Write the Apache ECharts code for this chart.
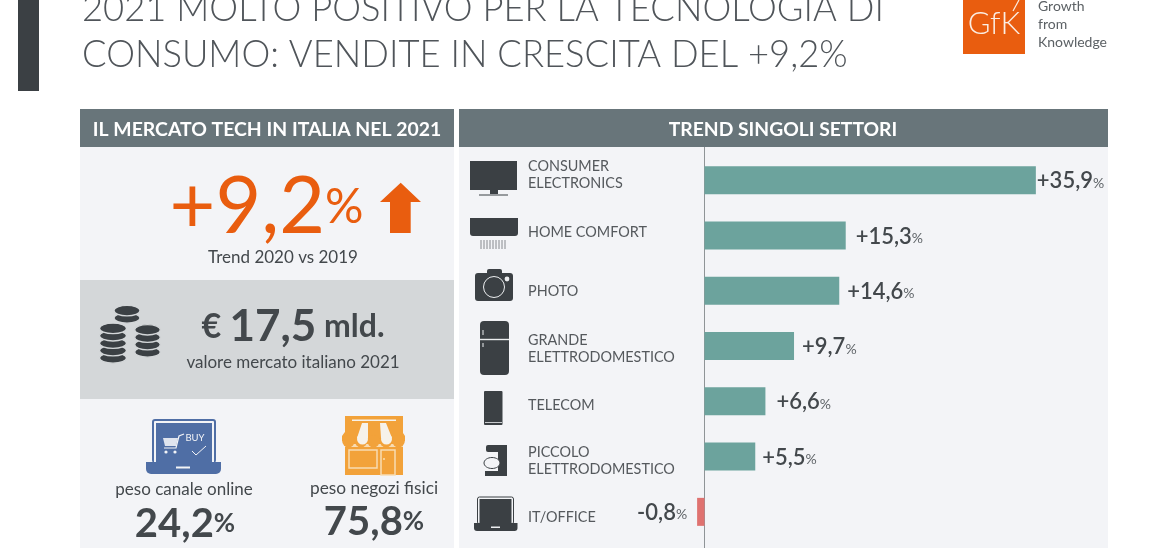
<!DOCTYPE html>
<html>
<head>
    <meta charset="utf-8">
    <title>Mercato tech Italia 2021</title>
    <script src="https://cdn.jsdelivr.net/npm/echarts@6/dist/echarts.min.js"></script>
    <style>
        html, body { margin: 0; padding: 0; background: #fff; }
        #chart { width: 1160px; height: 560px; }
    </style>
</head>
<body>
    <div id="chart"></div>
    <script>
        // data
        const titleLines = ['2021 MOLTO POSITIVO PER LA TECNOLOGIA DI', 'CONSUMO: VENDITE IN CRESCITA DEL +9,2%'];
        const categories = ['CONSUMER\nELECTRONICS', 'HOME COMFORT', 'PHOTO', 'GRANDE\nELETTRODOMESTICO', 'TELECOM', 'PICCOLO\nELETTRODOMESTICO', 'IT/OFFICE'];
        const trendValues = [35.9, 15.3, 14.6, 9.7, 6.6, 5.5, -0.8];
        const logoLines = ['Growth', 'from', 'Knowledge'];

        // layout tweaks, the original labels are not all on the bar centre
        const labelShift = [-5, -3, 1, 3, 4, 4, 6];
        const valueGap = [1, 10, 8, 8, 11, 7, 10];

        const DARK = '#3b4044';
        const TEXT = '#43484c';
        const PANEL = '#f3f4f7';
        const HEADER = '#68757a';
        const ORANGE = '#e95d0f';
        const FONT = 'Lato, "Open Sans", sans-serif';

        const formatValue = v => (v > 0 ? '+' : '') + String(v).replace('.', ',');

        function rect(x, y, w, h, fill, r, z) {
            return { type: 'rect', z: z === undefined ? 5 : z, silent: true, shape: { x, y, width: w, height: h, r: r || 0 }, style: { fill } };
        }
        function line(x1, y1, x2, y2, stroke, lineWidth, z) {
            return { type: 'line', z: z === undefined ? 6 : z, silent: true, shape: { x1, y1, x2, y2 }, style: { stroke, lineWidth: lineWidth || 1 } };
        }
        function circle(cx, cy, r, style) {
            return { type: 'circle', z: 6, silent: true, shape: { cx, cy, r }, style };
        }
        function poly(points, fill, z) {
            return { type: 'polygon', z: z === undefined ? 6 : z, silent: true, shape: { points }, style: { fill } };
        }
        function stroke(points, color, lineWidth) {
            return { type: 'polyline', z: 7, silent: true, shape: { points }, style: { stroke: color, lineWidth: lineWidth || 1, fill: null } };
        }
        function text(x, y, str, size, opts) {
            opts = opts || {};
            return {
                type: 'text', z: 8, silent: true,
                style: {
                    x, y, text: str,
                    fill: opts.fill || TEXT,
                    font: `${opts.weight || 400} ${size}px ${FONT}`,
                    textAlign: opts.align || 'center',
                    textVerticalAlign: 'middle',
                    rich: opts.rich
                }
            };
        }
        function coinStack(cx, bottom, n, rx, ry) {
            const out = [];
            for (let i = 0; i < n; i++) {
                const cy = bottom - i * 7.4;
                out.push({ type: 'ellipse', z: 6, silent: true, shape: { cx, cy, rx, ry }, style: { fill: DARK, stroke: '#d4d7d9', lineWidth: 1.3 } });
            }
            return out;
        }

        const panels = [
            rect(18, 0, 21, 91, DARK, 0, 1),
            rect(80, 147, 374, 401, PANEL, 0, -10),
            rect(459, 147, 649, 401, PANEL, 0, -10),
            rect(80, 109, 374, 38, HEADER, 0, 1),
            rect(459, 109, 649, 38, HEADER, 0, 1),
            rect(80, 280, 374, 119, '#d4d7d9', 0, 1),
            line(704.5, 147, 704.5, 548, '#8f9497', 1, -5)
        ];

        const logo = [
            rect(963, 0, 62, 54, ORANGE, 0, 2),
            text(994, 24, 'GfK', 31, { fill: '#fbeee4', weight: 300 }),
            line(1013, 11, 1019, 0, '#fbeee4', 1.2),
            text(1038, 6, logoLines[0], 14, { align: 'left', fill: '#5c6165' }),
            text(1038, 24, logoLines[1], 14, { align: 'left', fill: '#5c6165' }),
            text(1038, 42, logoLines[2], 14, { align: 'left', fill: '#5c6165' })
        ];

        const pct = (size, color, weight) => ({ fontFamily: 'Lato', fontSize: size, fontWeight: weight || 400, fill: color, color });
        const texts = [
            text(82, 9, titleLines[0], 36.4, { align: 'left', weight: 300, fill: '#50555a' }),
            text(82, 55, titleLines[1], 36.4, { align: 'left', weight: 300, fill: '#50555a' }),
            text(267, 130, 'IL MERCATO TECH IN ITALIA NEL 2021', 19.4, { fill: '#fff', weight: 700 }),
            text(783, 130, 'TREND SINGOLI SETTORI', 19.3, { fill: '#fff', weight: 700 }),
            text(266.5, 208, '{a|+9,2}{b|%}', 79, { fill: ORANGE, rich: { a: pct(79, ORANGE), b: pct(48, ORANGE) } }),
            text(283, 258, 'Trend 2020 vs 2019', 17),
            text(293, 327, '{a|€ }{b|17,5}{c| mld.}', 30, { rich: { a: pct(34, TEXT, 700), b: pct(44, TEXT, 700), c: pct(32, TEXT, 700) } }),
            text(293, 363, 'valore mercato italiano 2021', 17),
            text(184, 490, 'peso canale online', 17),
            text(374, 488, 'peso negozi fisici', 17.3),
            text(185, 524, '{a|24,2}{b|%}', 40, { rich: { a: pct(40, TEXT, 700), b: pct(26, TEXT, 700) } }),
            text(374, 522, '{a|75,8}{b|%}', 40, { rich: { a: pct(40, TEXT, 700), b: pct(26, TEXT, 700) } })
        ];

        const arrow = [poly([[400.7, 182.7], [421, 202], [410.7, 202], [410.7, 233], [390, 233], [390, 202], [380, 202]], ORANGE)];

        const coins = [
            ...coinStack(127, 318, 2, 13, 5.2),
            ...coinStack(147.5, 352, 4, 12.8, 5.2),
            ...coinStack(113, 358, 5, 13.5, 5.2)
        ];

        const BLUE = '#4f6ea5';
        const onlineIcon = [
            rect(152, 419, 64, 44, BLUE, 3),
            rect(154, 421, 60, 42, '#f3f4f7', 1),
            rect(156, 423, 56, 40, BLUE),
            rect(146, 462, 75, 12, BLUE, [0, 0, 5, 5]),
            rect(176, 466.5, 14, 2, '#f3f4f7'),
            text(195, 438, 'BUY', 9.5, { fill: '#f3f4f7' }),
            stroke([[184, 434], [179, 436], [176, 448], [164, 448]], '#f3f4f7', 1.2),
            poly([[163, 438], [178, 438], [176, 446], [165, 446]], '#dfe4ee'),
            circle(166, 452, 1.6, { fill: '#f3f4f7' }),
            circle(175, 452, 1.6, { fill: '#f3f4f7' }),
            stroke([[192, 451], [196, 455], [206, 446]], '#f3f4f7', 1)
        ];

        const STORE = '#f2a23a';
        const PALE = '#f8dcb2';
        const storeIcon = [
            rect(345, 416, 58, 59, STORE),
            poly([[352, 419.5], [396, 419.5], [396, 421], [352, 421]], '#f6f2ea'),
            poly([[353, 421], [395, 421], [405, 436], [405, 441], [342, 441], [342, 436]], STORE),
            rect(345, 444, 58, 3, PALE),
            ...[348.5, 361, 373.5, 386, 398.5].map(cx => circle(cx, 441, 6.3, { fill: STORE })),
            poly([[362, 423], [368, 423], [368, 438], [357, 438]], '#f6f2ea'),
            circle(362.5, 439, 5.5, { fill: '#f6f2ea' }),
            poly([[380, 423], [386, 423], [392, 438], [381, 438]], '#f6f2ea'),
            circle(386.5, 439, 5.5, { fill: '#f6f2ea' }),
            { type: 'rect', z: 7, silent: true, shape: { x: 349, y: 450, width: 28, height: 18 }, style: { fill: null, stroke: PALE, lineWidth: 1.5 } },
            { type: 'rect', z: 7, silent: true, shape: { x: 381, y: 450, width: 14, height: 25 }, style: { fill: null, stroke: PALE, lineWidth: 1.5 } },
            circle(384, 459, 1, { fill: PALE })
        ];

        const sectorIcons = [
            // tv
            rect(470, 161, 47, 29, DARK),
            rect(490, 190, 8, 4, DARK),
            line(479, 195, 508, 195, DARK, 1),
            // air conditioner
            rect(470, 218, 48, 18, DARK, [0, 0, 3, 3]),
            ...[481, 484, 487, 490, 493, 496, 499, 502, 505].map(x => line(x, 240, x, 249, '#6a6f73', 0.8)),
            // camera
            rect(487, 269, 15, 6, DARK, 2),
            rect(475, 273, 38, 28, DARK, 3),
            circle(494, 287, 10.5, { fill: DARK, stroke: '#eceef0', lineWidth: 1 }),
            circle(507, 279, 2.4, { fill: '#eceef0' }),
            // fridge
            rect(480, 321, 29, 54, DARK, 4),
            line(480, 339.5, 509, 339.5, '#eceef0', 1.4),
            line(483, 330, 483, 335, '#eceef0', 1),
            line(483, 343, 483, 347, '#eceef0', 1),
            // phone
            rect(484, 391, 18.5, 34, DARK, 1),
            line(485, 422.5, 502, 422.5, '#eceef0', 0.8),
            // mixer
            rect(486, 445, 21, 7, DARK, 2),
            rect(498, 445, 9, 31, DARK),
            rect(485, 471, 22, 5, DARK),
            { type: 'ellipse', z: 7, silent: true, shape: { cx: 492, cy: 463, rx: 8, ry: 5.5 }, style: { fill: PANEL, stroke: DARK, lineWidth: 1 } },
            // laptop
            { type: 'rect', z: 4, silent: true, shape: { x: 477.5, y: 497, width: 36, height: 27, r: 2 }, style: { fill: PANEL, stroke: DARK, lineWidth: 1 } },
            rect(479.5, 499, 32, 24, DARK),
            rect(474, 523, 43.5, 8, DARK, [0, 0, 3, 3]),
            { type: 'rect', z: 6, silent: true, shape: { x: 491, y: 526.5, width: 9, height: 1.5 }, style: { fill: '#eceef0' } }
        ];

        // one rich style per shifted label: extra height on the far side moves the text block
        const labelRich = { n: { fontFamily: FONT, fontSize: 14.4, lineHeight: 17, color: '#55595d' } };
        const shiftKey = s => (s > 0 ? 'dn' : 'up') + Math.abs(s);
        labelShift.forEach(s => {
            const pad = Math.abs(s) * 2;
            labelRich[shiftKey(s)] = {
                fontFamily: FONT, fontSize: 14.4, lineHeight: 17 + pad, color: '#55595d',
                padding: s > 0 ? [pad, 0, 0, 0] : [0, 0, pad, 0]
            };
        });
        function categoryLabel(value, index) {
            const rows = value.split('\n');
            const s = labelShift[index];
            return rows.map((row, r) => {
                const shifted = s > 0 ? r === 0 : r === rows.length - 1;
                return `{${shifted ? shiftKey(s) : 'n'}|${row}}`;
            }).join('\n');
        }

        const chart = echarts.init(document.getElementById('chart'));
        // 9.23 px per point, zero sits on x=704.5
        chart.setOption({
            animation: false,
            backgroundColor: '#fff',
            textStyle: { fontFamily: FONT },
            graphic: { elements: [...panels, ...logo, ...texts, ...arrow, ...coins, ...onlineIcon, ...storeIcon, ...sectorIcons] },
            grid: { left: 658.35, top: 152.5, width: 415.35, height: 387 },
            xAxis: { type: 'value', min: -5, max: 40, show: false, splitLine: { show: false } },
            yAxis: {
                type: 'category',
                inverse: true,
                data: categories,
                axisLine: { show: true, onZero: true, lineStyle: { color: '#8f9497', width: 1 } },
                axisTick: { show: false },
                axisLabel: {
                    inside: true,
                    align: 'left',
                    margin: -130.35,
                    formatter: categoryLabel,
                    rich: labelRich
                }
            },
            series: [{
                type: 'bar',
                barWidth: 28,
                data: trendValues.map((v, i) => ({
                    value: v,
                    itemStyle: { color: v < 0 ? '#df7270' : '#6ca39d' },
                    label: { position: v < 0 ? 'left' : 'right', distance: valueGap[i] }
                })),
                label: {
                    show: true,
                    offset: [0, 1],
                    formatter: p => `{v|${formatValue(p.value)}}{p|%}`,
                    rich: {
                        v: { fontFamily: FONT, fontSize: 22, fontWeight: 600, color: TEXT },
                        p: { fontFamily: FONT, fontSize: 14, color: '#5f6468', padding: [4, 0, 0, 0] }
                    }
                }
            }]
        });
    </script>
</body>
</html>
